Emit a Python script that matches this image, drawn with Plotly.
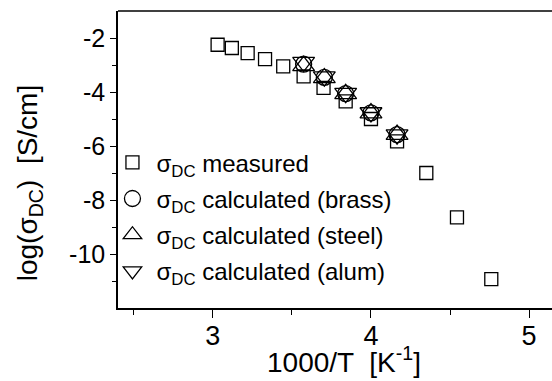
import plotly.graph_objects as go

# Data
x_meas = [3.03, 3.12, 3.22, 3.33, 3.445, 3.574, 3.70, 3.84, 4.00, 4.165, 4.35, 4.544, 4.761]
y_meas = [-2.25, -2.37, -2.56, -2.78, -3.05, -3.42, -3.85, -4.35, -5.0, -5.83, -7.0, -8.64, -10.93]

x_calc = [3.574, 3.705, 3.84, 4.0, 4.165]
y_brass = [-2.97, -3.46, -4.06, -4.77, -5.58]
y_steel = [-3.03, -3.48, -4.07, -4.78, -5.58]
y_alum = [-2.89, -3.43, -4.04, -4.76, -5.58]

x_ticks = [3, 4, 5]
y_ticks = [-2, -4, -6, -8, -10]

FONT = "Arial, Liberation Sans, sans-serif"
names = ["σ<sub>DC</sub> measured", "σ<sub>DC</sub> calculated (brass)",
         "σ<sub>DC</sub> calculated (steel)", "σ<sub>DC</sub> calculated (alum)"]

fig = go.Figure()
fig.add_trace(go.Scatter(x=x_meas, y=y_meas, mode="markers", name=names[0], legendgroup="a",
                         marker=dict(symbol="square-open", size=13, color="black", line=dict(width=1.3))))
fig.add_trace(go.Scatter(x=x_calc, y=y_brass, mode="markers", name=names[1], legendgroup="b",
                         marker=dict(symbol="circle-open", size=16, color="black", line=dict(width=1.3))))
fig.add_trace(go.Scatter(x=x_calc, y=y_steel, mode="markers", name=names[2], legendgroup="c",
                         marker=dict(symbol="triangle-up-open", size=19, color="black", line=dict(width=1.3))))
fig.add_trace(go.Scatter(x=x_calc, y=y_alum, mode="markers", name=names[3], legendgroup="d",
                         marker=dict(symbol="triangle-down-open", size=19, color="black", line=dict(width=1.3))))

fig.update_layout(
    width=552, height=381,
    margin=dict(l=118, r=0, t=11, b=73, autoexpand=False),
    paper_bgcolor="white", plot_bgcolor="white",
    font=dict(family=FONT, color="black"),
    showlegend=True,
    legend=dict(x=-0.022, y=0.565, xanchor="left", yanchor="top",
                font=dict(size=24, family=FONT), bgcolor="rgba(0,0,0,0)",
                tracegroupgap=2, itemsizing="trace", itemwidth=38),
    xaxis=dict(range=[2.4, 5.145], tickvals=x_ticks, ticktext=[str(v) for v in x_ticks],
               automargin=False, ticklabelstandoff=-5,
               showgrid=False, zeroline=False, showline=True, linecolor="black", linewidth=1.5,
               ticks="outside", ticklen=8, tickwidth=1.3, tickcolor="black",
               tickfont=dict(size=27, family=FONT),
               minor=dict(tickvals=[2.5, 3.5, 4.5], ticks="outside", ticklen=5, tickwidth=1.3, tickcolor="black")),
    yaxis=dict(range=[-12, -1], tickvals=y_ticks, ticktext=[str(v) for v in y_ticks],
               automargin=False,
               showgrid=False, zeroline=False, showline=True, linecolor="black", linewidth=1.5,
               ticks="outside", ticklen=6, tickwidth=1.3, tickcolor="black",
               tickfont=dict(size=25, family=FONT),
               minor=dict(tickvals=[-3, -5, -7, -9, -11], ticks="outside", ticklen=4, tickwidth=1.3, tickcolor="black")),
)

# axis titles placed as annotations
fig.add_annotation(text="log(σ<sub>DC</sub>)  [S/cm]", textangle=-90, xref="paper", yref="paper",
                   x=-0.205, y=0.42, xanchor="center", yanchor="middle", showarrow=False,
                   font=dict(size=28, family=FONT))
fig.add_annotation(text="1000/T  [K<sup>-1</sup>]", xref="paper", yref="paper",
                   x=0.52, y=-0.176, xanchor="center", yanchor="middle", showarrow=False,
                   font=dict(size=28, family=FONT))

# top frame line
fig.add_shape(type="line", xref="paper", yref="paper", x0=0, x1=1, y0=1, y1=1,
              line=dict(color="black", width=1.5))

fig.write_html("out.html", config={"displayModeBar": False},
               post_script="document.body.style.margin='0';")
